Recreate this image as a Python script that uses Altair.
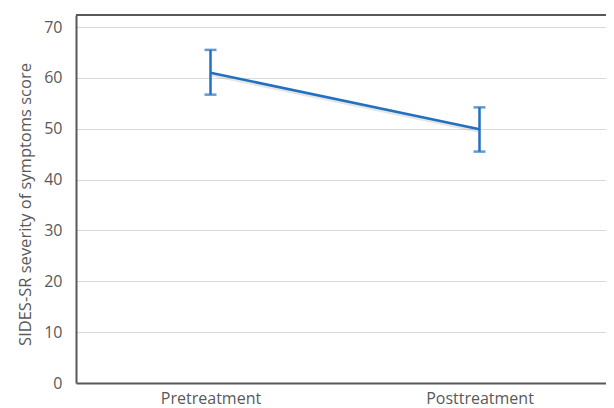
import altair as alt
import pandas as pd

phases = ["Pretreatment", "Posttreatment"]
means = [61.0, 49.9]
lowers = [56.7, 45.5]
uppers = [65.5, 54.2]
y_ticks = [0, 10, 20, 30, 40, 50, 60, 70]

df = pd.DataFrame({"phase": phases, "mean": means, "lo": lowers, "hi": uppers})

W, H = 538, 368
BLUE = "#2270C0"
GRAY = "#595959"

x = alt.X("phase:N", sort=phases, title=None,
          scale=alt.Scale(type="point", padding=0.5),
          axis=alt.Axis(labelAngle=0, ticks=False, domainColor=GRAY, domainWidth=2,
                        labelFont="Open Sans", labelFontSize=16, labelColor=GRAY,
                        labelPadding=7, grid=False))
y_scale = alt.Scale(domain=[0, 72.36], nice=False)
y = alt.Y("mean:Q", scale=y_scale, title="SIDES-SR severity of symptoms score",
          axis=alt.Axis(values=y_ticks, ticks=False, domainColor=GRAY, domainWidth=2,
                        labelFont="Open Sans", labelFontSize=16, labelColor=GRAY,
                        labelPadding=14, gridColor="#d9d9d9", gridWidth=1,
                        titleFont="Open Sans", titleFontSize=16.5, titleColor=GRAY,
                        titleFontWeight="normal", titlePadding=10, titleY=189))

base = alt.Chart(df)

shadow = base.mark_line(color="#999999", strokeWidth=3, opacity=0.25, yOffset=2).encode(x=x, y=y)
line = base.mark_line(color=BLUE, strokeWidth=2.5).encode(x=x, y=y)
err = base.mark_rule(color=BLUE, strokeWidth=2.5).encode(
    x=x, y=alt.Y("lo:Q", scale=y_scale), y2="hi:Q")
cap_lo = base.mark_tick(color=BLUE, thickness=2.5, size=12, orient="horizontal").encode(
    x=x, y=alt.Y("lo:Q", scale=y_scale))
cap_hi = base.mark_tick(color=BLUE, thickness=2.5, size=12, orient="horizontal").encode(
    x=x, y=alt.Y("hi:Q", scale=y_scale))
top = alt.Chart(pd.DataFrame({"a": [0]})).mark_rule(color=GRAY, strokeWidth=2).encode(
    y=alt.value(0), x=alt.value(0), x2=alt.value(W))

chart = alt.layer(shadow, line, err, cap_lo, cap_hi, top).properties(
    width=W, height=H,
    autosize=alt.AutoSizeParams(type="none"),
    padding={"left": 68, "top": 7, "right": -8, "bottom": 26},
    background="white",
).configure_view(strokeWidth=0)

chart.save("out.html", embed_options={"renderer": "svg", "actions": False})
